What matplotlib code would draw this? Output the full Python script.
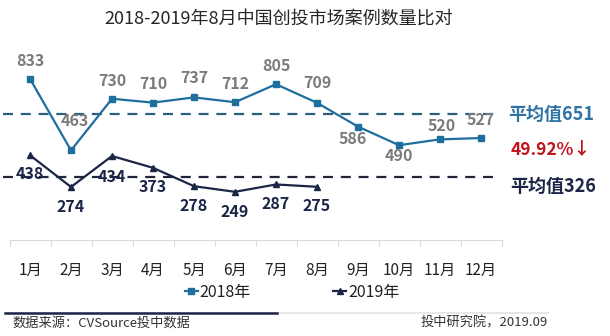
import matplotlib
matplotlib.use("Agg")
import matplotlib.pyplot as plt
from matplotlib.lines import Line2D

plt.rcParams['font.family'] = ['Noto Sans CJK SC', 'DejaVu Sans']

months = ['1月', '2月', '3月', '4月', '5月', '6月', '7月', '8月', '9月', '10月', '11月', '12月']
values_2018 = [833, 463, 730, 710, 737, 712, 805, 709, 586, 490, 520, 527]
values_2019 = [438, 274, 434, 373, 278, 249, 287, 275]
avg_2018 = 651
avg_2019 = 326
change_text = '49.92%↓'
title = '2018-2019年8月中国创投市场案例数量比对'
source_left = '数据来源：CVSource投中数据'
source_right = '投中研究院，2019.09'

# label offsets in pixels (dx, dy)
off_2018 = [(0, 18), (4, 29), (0, 18), (0, 19), (0, 19), (0, 18), (0, 18), (0, 20),
            (-5, -12), (0, -11), (2, 13), (0, 18)]
off_2019 = [(0, -19), (0, -20), (0, -21), (0, -19), (0, -20), (0, -20), (0, -20), (0, -19)]

c18 = '#1f6f9e'
c19 = '#1b2646'
grey_lbl = '#7b7b7b'

fig = plt.figure(figsize=(6.10, 3.36), dpi=100)
ax = fig.add_axes([9.5 / 610, (336 - 240) / 336, 492 / 610, 193.5 / 336])
x18 = list(range(len(values_2018)))
x19 = list(range(len(values_2019)))

ax.axhline(avg_2018, xmin=-0.013, xmax=0.985, color='#2c5f7c', lw=1.6, ls=(0, (4.5, 3.5)), clip_on=False, zorder=1)
ax.axhline(avg_2019, xmin=-0.013, xmax=0.985, color='#1e2638', lw=1.6, ls=(0, (4.5, 3.5)), clip_on=False, zorder=1)

ax.plot(x18, values_2018, color=c18, lw=1.6, marker='s', ms=5, zorder=3)
ax.plot(x19, values_2019, color=c19, lw=1.6, marker='^', ms=5, zorder=3)

for xi, v, (dx, dy) in zip(x18, values_2018, off_2018):
    ax.annotate(str(v), (xi, v), xytext=(dx, dy), textcoords='offset pixels',
                ha='center', va='center', fontsize=11.5, color=grey_lbl, fontweight='bold', zorder=4)
for xi, v, (dx, dy) in zip(x19, values_2019, off_2019):
    ax.annotate(str(v), (xi, v), xytext=(dx, dy), textcoords='offset pixels',
                ha='center', va='center', fontsize=11.5, color=c19, fontweight='bold', zorder=4)

ax.set_xlim(-0.5, 11.5)
ax.set_ylim(0, 1000)
ax.set_yticks([])
ax.set_xticks([i - 0.5 for i in range(13)], minor=False)
ax.set_xticklabels([])
ax.set_xticks(x18, minor=True)
ax.set_xticklabels(months, minor=True, fontsize=11, color='#222222')
ax.tick_params(axis='x', which='minor', length=0, pad=16)
ax.tick_params(axis='x', which='major', length=4, color='#d9d9d9', width=0.8)
for s in ['top', 'right', 'left']:
    ax.spines[s].set_visible(False)
ax.spines['bottom'].set_color('#d9d9d9')
ax.spines['bottom'].set_linewidth(0.8)

fig.text(279 / 610, 1 - 20 / 336, title, ha='center', va='center', fontsize=13, color='#262626')
fig.text(508 / 610, 1 - 114 / 336, f'平均值{avg_2018}', ha='left', va='center', fontsize=13,
         color='#2e75a6', fontweight='bold')
fig.text(511 / 610, 1 - 150 / 336, change_text, ha='left', va='center', fontsize=12.5,
         color='#c0141c', fontweight='bold')
fig.text(510 / 610, 1 - 186 / 336, f'平均值{avg_2019}', ha='left', va='center', fontsize=13,
         color='#1b2646', fontweight='bold')

handles = [Line2D([], [], color=c18, marker='s', ms=4, lw=1.6),
           Line2D([], [], color=c19, marker='^', ms=4, lw=1.6)]
fig.legend(handles, ['2018年', '2019年'], loc='center', bbox_to_anchor=(292 / 610, 1 - 292 / 336),
           ncol=2, frameon=False, fontsize=11.5, handlelength=0.8, handletextpad=0.1,
           columnspacing=5.2, labelcolor='#222222')

fig.add_artist(Line2D([5 / 610, 548 / 610], [1 - 313 / 336] * 2, color='#e3e3e3', lw=1.2))
fig.add_artist(Line2D([5 / 610, 277 / 610], [1 - 313 / 336] * 2, color='#1b2646', lw=1.8))
fig.text(12 / 610, 1 - 323 / 336, source_left, ha='left', va='center', fontsize=9.5, color='#333333')
fig.text(548 / 610, 1 - 323 / 336, source_right, ha='right', va='center', fontsize=9.5, color='#333333')

fig.savefig('out.png', dpi=100, facecolor='white')
